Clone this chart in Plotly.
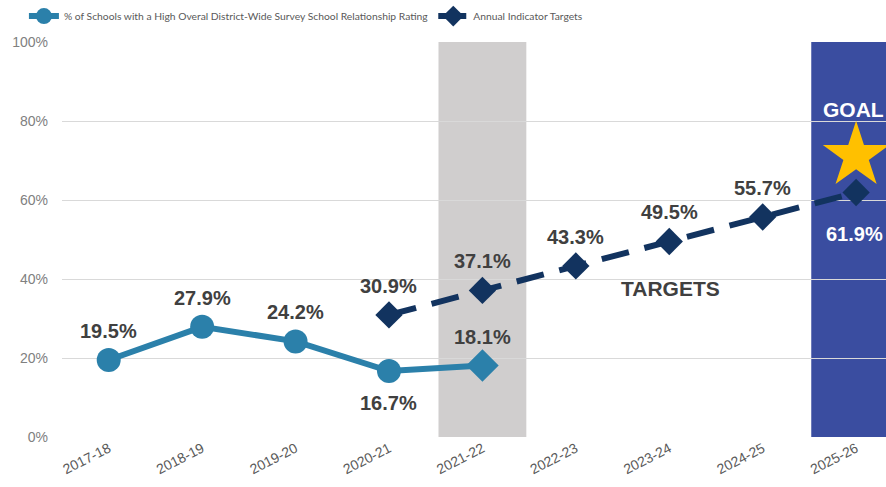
import plotly.graph_objects as go

categories = ["2017-18", "2018-19", "2019-20", "2020-21", "2021-22",
              "2022-23", "2023-24", "2024-25", "2025-26"]
actual_cats = ["2017-18", "2018-19", "2019-20", "2020-21", "2021-22"]
actual_vals = [19.5, 27.9, 24.2, 16.7, 18.1]
target_cats = ["2020-21", "2021-22", "2022-23", "2023-24", "2024-25", "2025-26"]
target_vals = [30.9, 37.1, 43.3, 49.5, 55.7, 61.9]
y_ticks = [0, 20, 40, 60, 80, 100]
y_tick_labels = ["0%", "20%", "40%", "60%", "80%", "100%"]

teal = "#2B80AA"
navy = "#12335F"
label_col = "#404040"
lab_font = "Liberation Sans"

fig = go.Figure()

fig.add_trace(go.Scatter(
    x=actual_cats, y=actual_vals, mode="lines+markers",
    name="% of Schools with a High Overal District-Wide Survey School Relationship Rating",
    line=dict(color=teal, width=6),
    marker=dict(size=[24, 24, 24, 24, 25], symbol=["circle"] * 4 + ["diamond"],
                color=teal, opacity=1, line=dict(width=0)),
))
fig.add_trace(go.Scatter(
    x=target_cats, y=target_vals, mode="lines+markers",
    name="Annual Indicator Targets",
    line=dict(color=navy, width=6, dash="28px,16px"),
    marker=dict(size=21, symbol="diamond", color=navy, opacity=1, line=dict(width=0)),
))

# bands
ci = {c: i for i, c in enumerate(categories)}
fig.add_shape(type="rect", xref="x", yref="paper",
              x0=ci["2021-22"] - 0.47, x1=ci["2021-22"] + 0.47, y0=0, y1=1,
              fillcolor="#D0CECE", line_width=0, layer="below")
fig.add_shape(type="rect", xref="x", yref="paper",
              x0=ci["2025-26"] - 0.48, x1=ci["2025-26"] + 0.6, y0=0, y1=1,
              fillcolor="#3A4DA0", line_width=0, layer="below")

# data labels
a_pos = ["top", "top", "top", "bottom", "top"]
for c, v, p in zip(actual_cats, actual_vals, a_pos):
    fig.add_annotation(x=c, y=v, text=f"<b>{v}%</b>", showarrow=False,
                       yshift=29 if p == "top" else -32,
                       font=dict(size=20, color=label_col, family=lab_font))
for c, v in zip(target_cats, target_vals):
    if c == "2025-26":
        fig.add_annotation(x=c, y=v, text=f"<b>{v}%</b>", showarrow=False, yshift=-41,
                           xshift=-2, font=dict(size=20, color="white", family=lab_font))
    else:
        fig.add_annotation(x=c, y=v, text=f"<b>{v}%</b>", showarrow=False, yshift=29,
                           font=dict(size=20, color=label_col, family=lab_font))

fig.add_annotation(x="2023-24", y=37.5, text="<b>TARGETS</b>", showarrow=False,
                   xshift=1, font=dict(size=21, color=label_col, family=lab_font))
fig.add_annotation(x="2025-26", y=82.8, text="<b>GOAL</b>", showarrow=False,
                   xshift=-3, font=dict(size=21, color="white", family=lab_font))
fig.add_trace(go.Scatter(x=["2025-26"], y=[71.2], mode="markers", showlegend=False,
                         hoverinfo="skip",
                         marker=dict(symbol="star", size=50, color="#FFC000",
                                     opacity=1, line=dict(width=0))))

fig.update_layout(
    width=886, height=487,
    margin=dict(l=62, r=0, t=42, b=50, autoexpand=False),
    plot_bgcolor="white", paper_bgcolor="white",
    font=dict(family=lab_font, color="#595959"),
    legend=dict(orientation="h", x=0.027, y=0.967, xanchor="left", yanchor="middle",
                xref="container", yref="container",
                font=dict(size=10.3, color="#595959", family="Lato"),
                bgcolor="rgba(0,0,0,0)", itemwidth=30, tracegroupgap=0),
    xaxis=dict(type="category", categoryorder="array", categoryarray=categories,
               range=[-0.5, 8.32], showgrid=False, tickangle=-27, automargin=False,
               tickfont=dict(size=14, color="#595959"), ticks="", showline=False,
               zeroline=False),
    yaxis=dict(range=[0, 100], tickvals=y_ticks, ticktext=y_tick_labels, automargin=False,
               showgrid=True, gridcolor="#D9D9D9", gridwidth=1, ticklabelstandoff=13,
               tickfont=dict(size=14, color="#808080"), zeroline=False,
               showline=False),
)

fig.write_html(
    "out.html",
    config={"displayModeBar": False},
    post_script="document.body.style.margin='0px';document.body.style.overflow='hidden';",
)
